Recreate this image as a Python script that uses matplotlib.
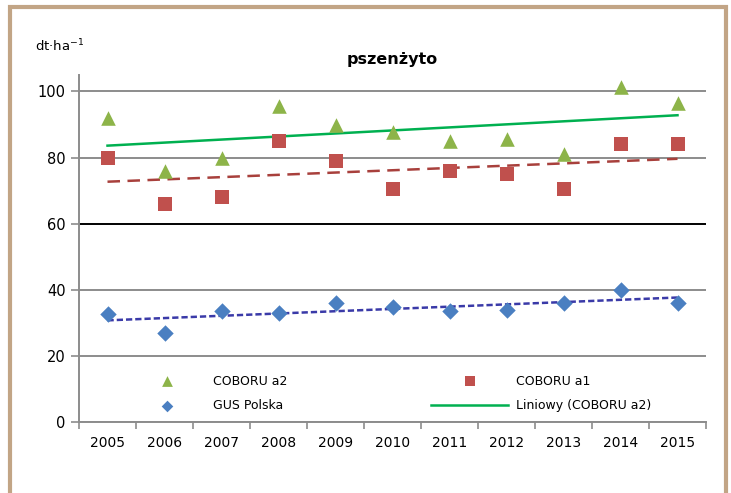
import numpy as np
import matplotlib
matplotlib.use("Agg")
import matplotlib.pyplot as plt
from matplotlib.patches import Rectangle

years = ['2005', '2006', '2007', '2008', '2009', '2010', '2011', '2012', '2013', '2014', '2015']
coboru_a2 = [92, 76, 80, 95.5, 90, 87.6, 85, 85.5, 81, 101.3, 96.4]
coboru_a1 = [80, 66, 68, 85, 79, 70.4, 76, 75, 70.4, 84, 84]
gus_polska = [32.6, 27, 33.5, 33, 36, 34.7, 33.5, 34, 36, 40, 36]
y_ticks = [0, 20, 40, 60, 80, 100]

plt.rcParams['font.family'] = ['DejaVu Sans']

fig = plt.figure(figsize=(7.31, 4.93), dpi=100)
# tan frame around the chart
fig.patches.append(Rectangle((10 / 731, -0.05), 716 / 731, 1.05 - 7 / 493,
                             transform=fig.transFigure, fill=False,
                             edgecolor='#c2a586', linewidth=3))

ax = fig.add_axes([79 / 731, 0.144, 627 / 731, 0.704])
x = np.arange(len(years))

# trend lines (linear fit, like Excel "Liniowy")
def trend(vals):
    k, b = np.polyfit(x, vals, 1)
    return k * x + b

ax.plot(x, trend(coboru_a2), color='#00b050', lw=1.8, zorder=3)
ax.plot(x, trend(coboru_a1), color='#a8403c', lw=1.8, dashes=(5, 3), zorder=3)
ax.plot(x, trend(gus_polska), color='#3a3aa8', lw=1.8, dashes=(2.5, 1.2), zorder=3)

ax.scatter(x, coboru_a2, marker='^', s=110, color='#8db449', zorder=4, linewidths=0)
ax.scatter(x, coboru_a1, marker='s', s=110, color='#c0504d', zorder=4, linewidths=0)
ax.scatter(x, gus_polska, marker='D', s=70, color='#4a7fc1', zorder=4, linewidths=0)

ax.set_ylim(0, 105)
ax.set_xlim(-0.5, 10.5)
ax.set_yticks(y_ticks)
ax.set_yticklabels([str(v) for v in y_ticks], fontsize=10.5)
for v in y_ticks:
    ax.axhline(v, color='black' if v == 60 else '#8c8c8c', lw=1.4, zorder=1)

ax.set_xticks(x)
ax.set_xticklabels(years, fontsize=10)
ax.tick_params(axis='x', length=0, pad=10)
ax.set_xticks(np.arange(-0.5, 11, 1), minor=True)
ax.tick_params(axis='x', which='minor', length=5, color='#8c8c8c', width=1.2)
ax.tick_params(axis='y', length=6, color='#8c8c8c', width=1.2)

for s in ['top', 'right']:
    ax.spines[s].set_visible(False)
ax.spines['left'].set_color('#8c8c8c')
ax.spines['left'].set_linewidth(1.4)
ax.spines['bottom'].set_color('#8c8c8c')
ax.spines['bottom'].set_linewidth(1.4)

ax.set_title('pszenżyto', fontsize=11.5, fontweight='bold', pad=8)
fig.text(35 / 731, 1 - 46 / 493, 'dt·ha$^{-1}$', fontsize=9.5, va='center')

h_a2 = ax.scatter([], [], marker='^', s=60, color='#8db449', linewidths=0)
h_a1 = ax.scatter([], [], marker='s', s=45, color='#c0504d', linewidths=0)
h_gus = ax.scatter([], [], marker='D', s=35, color='#4a7fc1', linewidths=0)
h_lin, = ax.plot([], [], color='#00b050', lw=1.8)
leg = ax.legend([h_a2, h_gus, h_a1, h_lin],
                ['COBORU a2', 'GUS Polska', 'COBORU a1', 'Liniowy (COBORU a2)'],
                ncol=2, loc='lower left', bbox_to_anchor=(0.062, 0.0),
                frameon=True, framealpha=1, edgecolor='none', fancybox=False,
                fontsize=9, handlelength=6.2, handletextpad=0.6,
                columnspacing=11.5, labelspacing=0.9, scatterpoints=1,
                borderpad=0.3)

fig.savefig('out.png', dpi=100)
